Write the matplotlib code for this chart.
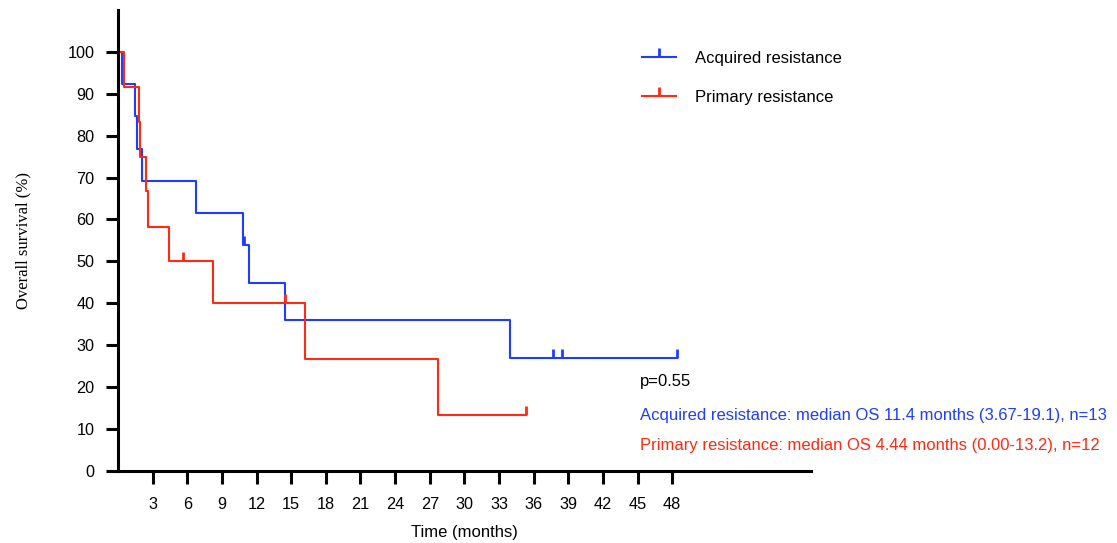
import matplotlib
matplotlib.use("Agg")
import matplotlib.pyplot as plt
from matplotlib.path import Path
from matplotlib.lines import Line2D

# Kaplan-Meier steps (months, % surviving)
acq_times = [0, 0.31, 1.49, 1.61, 2.10, 6.75, 10.85, 11.35, 14.43, 33.94, 48.43]
acq_surv = [100, 92.3, 84.6, 76.9, 69.2, 61.5, 53.8, 44.9, 35.9, 26.9, 26.9]
acq_cens_t = [10.95, 37.69, 38.42, 48.43]
acq_cens_s = [53.8, 26.9, 26.9, 26.9]

pri_times = [0, 0.51, 1.84, 1.90, 2.42, 2.62, 4.43, 8.24, 16.19, 27.68, 35.3]
pri_surv = [100, 91.7, 83.3, 75.0, 66.7, 58.3, 50.0, 40.0, 26.7, 13.3, 13.3]
pri_cens_t = [5.65, 14.5, 35.3]
pri_cens_s = [50.0, 40.0, 13.3]

x_ticks = [3, 6, 9, 12, 15, 18, 21, 24, 27, 30, 33, 36, 39, 42, 45, 48]
y_ticks = [0, 10, 20, 30, 40, 50, 60, 70, 80, 90, 100]

p_text = "p=0.55"
acq_text = "Acquired resistance: median OS 11.4 months (3.67-19.1), n=13"
pri_text = "Primary resistance: median OS 4.44 months (0.00-13.2), n=12"

BLUE = "#1f3dff"
RED = "#ff2a12"
FS = 12

plt.rcParams["font.family"] = ["Liberation Sans", "DejaVu Sans"]

# upward tick used for censored observations
up_tick = Path([(0, 0), (0, 1)])

fig = plt.figure(figsize=(11.17, 5.43), dpi=100)
ax = fig.add_axes([0.1057, 0.1331, 0.6201, 0.8485])

ax.step(acq_times, acq_surv, where="post", color=BLUE, lw=1.5,
        label="Acquired resistance")
ax.step(pri_times, pri_surv, where="post", color=RED, lw=1.5,
        label="Primary resistance")
ax.plot(acq_cens_t, acq_cens_s, ls="none", marker=up_tick, ms=13, mew=2,
        color=BLUE, clip_on=False)
ax.plot(pri_cens_t, pri_cens_s, ls="none", marker=up_tick, ms=13, mew=2,
        color=RED, clip_on=False)

ax.set_xlim(0, 60)
ax.set_ylim(0, 110)
ax.set_xticks(x_ticks)
ax.set_yticks(y_ticks)
ax.tick_params(width=2.2, length=9, labelsize=11.7)
ax.tick_params(axis="x", pad=10)
ax.tick_params(axis="y", pad=8)

for side in ["top", "right"]:
    ax.spines[side].set_visible(False)
for side in ["left", "bottom"]:
    ax.spines[side].set_linewidth(2.2)

ax.set_xlabel("Time (months)", fontsize=FS, labelpad=9)
ax.set_ylabel("Overall survival (%)", fontsize=FS, family="Liberation Serif",
              labelpad=26)

# legend handles: line with a small upward tick in the middle
handles = [
    Line2D([0, 1], [0, 0], color=BLUE, lw=1.5, marker=up_tick, ms=13, mew=2),
    Line2D([0, 1], [0, 0], color=RED, lw=1.5, marker=up_tick, ms=13, mew=2),
]
ax.legend(handles, ["Acquired resistance", "Primary resistance"],
          loc="upper left", bbox_to_anchor=(0.756, 0.912), frameon=False,
          fontsize=FS, borderaxespad=0, borderpad=0, handlelength=2.05,
          handletextpad=1.15, labelspacing=1.45, numpoints=1)

ax.text(45.2, 21.2, p_text, fontsize=FS, va="center", color="black",
        clip_on=False)
ax.text(45.2, 13.3, acq_text, fontsize=FS, va="center", color=BLUE,
        clip_on=False)
ax.text(45.2, 6.1, pri_text, fontsize=FS, va="center", color=RED,
        clip_on=False)

fig.savefig("out.png", dpi=100)
